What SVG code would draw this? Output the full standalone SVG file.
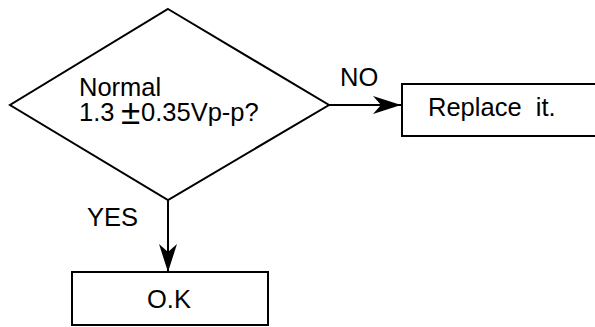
<svg xmlns="http://www.w3.org/2000/svg" width="595" height="327" viewBox="0 0 595 327">
<style>
.shape{fill:#fff;stroke:#000;stroke-width:2}
.line{fill:none;stroke:#000;stroke-width:2}
.t{font-family:"Liberation Sans",Arial,sans-serif;font-size:25.5px;fill:#000}
</style>
<defs>
<marker id="arr" markerUnits="userSpaceOnUse" markerWidth="30" markerHeight="22" refX="28" refY="11" orient="auto">
<path d="M0,2 L28,11 L0,20 L8,11 Z" fill="#000"/>
</marker>
</defs>
<rect width="595" height="327" fill="#fff"/>
<g id="connectors">
<line class="line" x1="329" y1="105" x2="401" y2="105" marker-end="url(#arr)"/>
<line class="line" x1="168" y1="200" x2="168" y2="272" marker-end="url(#arr)"/>
<text class="t" x="340" y="86">NO</text>
<text class="t" x="87" y="226">YES</text>
</g>
<g id="decision">
<polygon class="shape" points="168,9 329,105 168,200 10,105"/>
<text class="t"><tspan x="79" y="96">Normal</tspan><tspan x="79" y="121">1.3</tspan><tspan x="130.5" y="124" text-anchor="middle" font-size="35">±</tspan><tspan x="141" y="121">0.35Vp-p?</tspan></text>
</g>
<g id="replace">
<rect class="shape" x="402" y="84" width="200" height="52"/>
<text class="t" x="428" y="116" xml:space="preserve">Replace  it.</text>
</g>
<g id="ok">
<rect class="shape" x="72" y="272" width="196" height="53"/>
<text class="t" x="169" y="308" text-anchor="middle">O.K</text>
</g>
</svg>
